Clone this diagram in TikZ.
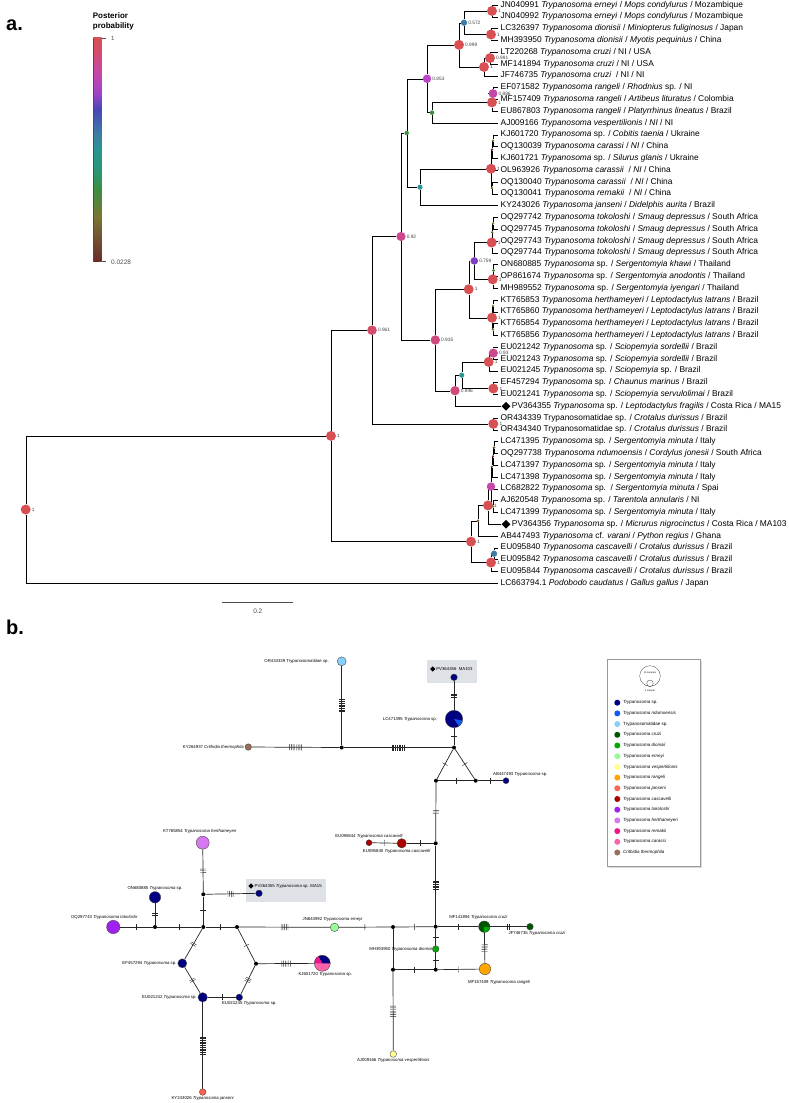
\documentclass[tikz,border=0pt]{standalone}
\usepackage{fontspec}
\setmainfont{Liberation Sans}
\usepackage{tikz}
\usetikzlibrary{calc,backgrounds,positioning,shapes.geometric}

%posterior colours (colour bar)
\definecolor{pp100}{RGB}{214,80,84}
\definecolor{pp96}{RGB}{211,76,106}
\definecolor{pp94}{RGB}{208,74,124}
\definecolor{pp92}{RGB}{204,72,142}
\definecolor{pp89}{RGB}{196,72,170}
\definecolor{pp85}{RGB}{186,70,196}
\definecolor{pp80}{RGB}{158,68,198}
\definecolor{pp76}{RGB}{128,64,196}
\definecolor{pp62}{RGB}{70,72,180}
\definecolor{pp57}{RGB}{62,124,166}
\definecolor{pp45}{RGB}{42,150,146}
\definecolor{pp40}{RGB}{42,150,112}
\definecolor{pp30}{RGB}{62,142,64}
\definecolor{pp15}{RGB}{122,118,52}
\definecolor{pp10}{RGB}{112,80,50}
\definecolor{pp02}{RGB}{110,42,42}
%haplotype colours
\definecolor{cTsp}{RGB}{0,0,128}
\definecolor{cNdu}{RGB}{20,90,240}
\definecolor{cTdae}{RGB}{135,206,250}
\definecolor{cCru}{RGB}{0,85,0}
\definecolor{cDio}{RGB}{0,170,0}
\definecolor{cErn}{RGB}{152,251,152}
\definecolor{cVes}{RGB}{255,255,140}
\definecolor{cRan}{RGB}{255,165,0}
\definecolor{cJan}{RGB}{250,100,80}
\definecolor{cCas}{RGB}{170,0,0}
\definecolor{cTok}{RGB}{160,32,240}
\definecolor{cHer}{RGB}{215,120,240}
\definecolor{cRem}{RGB}{240,20,140}
\definecolor{cCar}{RGB}{250,100,170}
\definecolor{cCri}{RGB}{150,110,90}
\definecolor{boxgray}{RGB}{222,226,230}

\pgfdeclareverticalshading{ppbar}{100bp}{color(0bp)=(pp02); color(25bp)=(pp02); color(30bp)=(pp10); color(35bp)=(pp15); color(41bp)=(pp30); color(45bp)=(pp40); color(50bp)=(pp45); color(53.5bp)=(pp57); color(59bp)=(pp62); color(62.5bp)=(pp80); color(67bp)=(pp89); color(72bp)=(pp96); color(75bp)=(pp100); color(100bp)=(pp100)}

\newcommand{\tryp}{\textit{Trypanosoma}}

\tikzset{
  pp/.style={circle, inner sep=0pt, minimum size=#1},
  vlab/.style={font=\fontsize{4.8}{5}\selectfont, text=black!75, inner sep=0.8pt},
  leaf/.style={anchor=west, inner xsep=2.5pt, inner ysep=0pt, font=\fontsize{8.4}{9}\selectfont},
  branch/.style={black!55, line width=0.8pt},
  dia/.style={diamond, fill=black, inner sep=0pt, minimum size=#1},
  hap/.style={circle, draw=black!75, line width=0.35pt, inner sep=0pt, minimum size=#1},
  mv/.style={circle, fill=black, inner sep=0pt, minimum size=4},
  nlab/.style={font=\fontsize{4.3}{5}\selectfont, inner sep=1pt},
  net/.style={black!85, line width=0.7pt},
  mt/.style={pos=.5, sloped},
  muts/.pic={
    \foreach \k in {1,...,#1}
      \draw[black!85, line width=0.4pt] ({(\k-(#1+1)/2)*1.7},-3) -- ({(\k-(#1+1)/2)*1.7},3);
  }
}

\begin{document}
\begin{tikzpicture}[x=1pt,y=-1pt]
\useasboundingbox (0,0) rectangle (789,1103);

%panel letters
\node[font=\bfseries\fontsize{20}{20}\selectfont, anchor=base west, inner sep=0] (pa) at (6,30) {a.};
\node[font=\bfseries\fontsize{20}{20}\selectfont, anchor=base west, inner sep=0] (pb) at (6,634) {b.};

%colour bar
\node[anchor=north west, align=left, font=\bfseries\fontsize{8}{9.6}\selectfont, inner sep=0] (cbt) at (92.7,13) {Posterior\\probability};
\shade[shading=ppbar] (93.3,37.7) rectangle (101.7,261.7);
\draw[black!70, line width=0.5pt] (93.3,37.7) -- (93.3,261.7);
\draw[black!70, line width=0.4pt] (101.7,37.9) -- (105.8,37.9) (101.7,261.5) -- (105.8,261.5);
\node[font=\fontsize{6}{6}\selectfont, anchor=west, inner sep=0, text=black!70] (cbhi) at (111,38.3) {1};
\node[font=\fontsize{6.5}{6}\selectfont, anchor=west, inner sep=0, text=black!70] (cblo) at (111,262.5) {0.0228};

%tips
\def\lx{498}
\foreach \i/\txt in {
 1/{JN040991 \textit{Trypanosoma erneyi} / \textit{Mops condylurus} / Mozambique},
 2/{JN040992 \textit{Trypanosoma erneyi} / \textit{Mops condylurus} / Mozambique},
 3/{LC326397 \textit{Trypanosoma dionisii} / \textit{Miniopterus fuliginosus} / Japan},
 4/{MH393950 \textit{Trypanosoma dionisii} / \textit{Myotis pequinius} / China},
 5/{LT220268 \textit{Trypanosoma cruzi} / NI / USA},
 6/{MF141894 \textit{Trypanosoma cruzi} / NI / USA},
 7/{JF746735 \textit{Trypanosoma cruzi}\ \ / NI / NI},
 8/{EF071582 \textit{Trypanosoma rangeli} / \textit{Rhodnius} sp. / NI},
 9/{MF157409 \textit{Trypanosoma rangeli} / \textit{Artibeus lituratus} / Colombia},
 10/{EU867803 \textit{Trypanosoma rangeli} / \textit{Platyrrhinus lineatus} / Brazil},
 11/{AJ009166 \textit{Trypanosoma vespertilionis} / \textit{NI} / NI},
 12/{KJ601720 \tryp\ sp. / \textit{Cobitis taenia} / Ukraine},
 13/{OQ130039 \textit{Trypanosoma carassi} / \textit{NI} / China},
 14/{KJ601721 \tryp\ sp. / \textit{Silurus glanis} / Ukraine},
 15/{OL963926 \textit{Trypanosoma carassii}\ \ / \textit{NI} / China},
 16/{OQ130040 \textit{Trypanosoma carassii}\ \ / \textit{NI} / China},
 17/{OQ130041 \textit{Trypanosoma remakii}\ \ / \textit{NI} / China},
 18/{KY243026 \textit{Trypanosoma janseni} / \textit{Didelphis aurita} / Brazil},
 19/{OQ297742 \textit{Trypanosoma tokoloshi} / \textit{Smaug depressus} / South Africa},
 20/{OQ297745 \textit{Trypanosoma tokoloshi} / \textit{Smaug depressus} / South Africa},
 21/{OQ297743 \textit{Trypanosoma tokoloshi} / \textit{Smaug depressus} / South Africa},
 22/{OQ297744 \textit{Trypanosoma tokoloshi} / \textit{Smaug depressus} / South Africa},
 23/{ON680885 \tryp\ sp. / \textit{Sergentomyia khawi} / Thailand},
 24/{OP861674 \tryp\ sp. / \textit{Sergentomyia anodontis} / Thailand},
 25/{MH989552 \tryp\ sp. / \textit{Sergentomyia iyengari} / Thailand},
 26/{KT765853 \textit{Trypanosoma herthameyeri} / \textit{Leptodactylus latrans} / Brazil},
 27/{KT765860 \textit{Trypanosoma herthameyeri} / \textit{Leptodactylus latrans} / Brazil},
 28/{KT765854 \textit{Trypanosoma herthameyeri} / \textit{Leptodactylus latrans} / Brazil},
 29/{KT765856 \textit{Trypanosoma herthameyeri} / \textit{Leptodactylus latrans} / Brazil},
 30/{EU021242 \tryp\ sp. / \textit{Sciopemyia sordellii} / Brazil},
 31/{EU021243 \tryp\ sp. / \textit{Sciopemyia sordellii} / Brazil},
 32/{EU021245 \tryp\ sp. / \textit{Sciopemyia} sp. / Brazil},
 33/{EF457294 \tryp\ sp. / \textit{Chaunus marinus} / Brazil},
 34/{EU021241 \tryp\ sp. / \textit{Sciopemyia servulolimai} / Brazil},
 36/{OR434339 Trypanosomatidae sp. / \textit{Crotalus durissus} / Brazil},
 37/{OR434340 Trypanosomatidae sp. / \textit{Crotalus durissus} / Brazil},
 38/{LC471395 \tryp\ sp. / \textit{Sergentomyia minuta} / Italy},
 39/{OQ297738 \textit{Trypanosoma ndumoensis} / \textit{Cordylus jonesii} / South Africa},
 40/{LC471397 \tryp\ sp. / \textit{Sergentomyia minuta} / Italy},
 41/{LC471398 \tryp\ sp. / \textit{Sergentomyia minuta} / Italy},
 42/{LC682822 \tryp\ sp.\ \ / \textit{Sergentomyia minuta} / Spai},
 43/{AJ620548 \tryp\ sp. / \textit{Tarentola annularis} / NI},
 44/{LC471399 \tryp\ sp. / \textit{Sergentomyia minuta} / Italy},
 46/{AB447493 \tryp\ cf. \textit{varani} / \textit{Python regius} / Ghana},
 47/{EU095840 \textit{Trypanosoma cascavelli} / \textit{Crotalus durissus} / Brazil},
 48/{EU095842 \textit{Trypanosoma cascavelli} / \textit{Crotalus durissus} / Brazil},
 49/{EU095844 \textit{Trypanosoma cascavelli} / \textit{Crotalus durissus} / Brazil},
 50/{LC663794.1 \textit{Podobodo caudatus} / \textit{Gallus gallus} / Japan}}{
  \pgfmathsetmacro{\ly}{5+(\i-1)*11.8}
  \node[leaf] (l\i) at (\lx,\ly) {\txt};
}
%the two new sequences
\node[dia=9] (d35) at (506,406.2) {};
\node[leaf, inner xsep=1pt] (l35) at (d35.east) {PV364355 \tryp\ sp. / \textit{Leptodactylus fragilis} / Costa Rica / MA15};
\node[dia=9] (d45) at (506,524.2) {};
\node[leaf, inner xsep=1pt] (l45) at (d45.east) {PV364356 \tryp\ sp. / \textit{Micrurus nigrocinctus} / Costa Rica / MA103};

%internal nodes, size and colour from posterior
\node[pp=10, fill=pp100, label={[vlab]right:1}] (root) at (25.7,509.55) {};
\node[pp=10, fill=pp100, label={[vlab]right:1}] (n1) at (331,435.9) {};
\node[pp=9.6, fill=pp96, label={[vlab]right:0.961}] (n037) at (372,330.2) {};
\node[pp=9.2, fill=pp92, label={[vlab]right:0.92}] (n0) at (401,236.5) {};
\node[pp=4.5, fill=pp30] (n118) at (406.7,133) {};
\node[pp=8.5, fill=pp85, label={[vlab]right:0.853}] (n111) at (427,78.75) {};
\node[pp=10, fill=pp100, label={[vlab]right:0.999}] (n17) at (459,44.83) {};
\node[pp=6.3, fill=pp57, label={[vlab]right:0.572}] (n14) at (464,22.7) {};
\node[pp=10, fill=pp100, label={[vlab]right:1}] (n12) at (492,10.9) {};
\node[pp=10, fill=pp100, label={[vlab]right:1}] (n34) at (491,34.5) {};
\node[pp=10, fill=pp100, label={[vlab]right:1}] (n57) at (484,66.95) {};
\node[pp=10, fill=pp100, label={[vlab]right:0.991}] (n56) at (490,58.1) {};
\node[pp=4.5, fill=pp30] (n811) at (432,112.68) {};
\node[pp=10, fill=pp100, label={[vlab]right:1}] (n810) at (492,102.35) {};
\node[pp=8.9, fill=pp89, label={[vlab]right:0.886}] (n89) at (493,93.5) {};
\node[pp=5.2, fill=pp45] (n1218) at (420,187.16) {};
\node[pp=10, fill=pp100, label={[vlab]right:1}] (n1217) at (491,168.73) {};
\node[pp=2.6, fill=pp15] (t1) at (493,140.7) {};
\node[pp=2.6, fill=pp02] (t2) at (492,149.55) {};
\node[pp=2.6, fill=pp15] (t3) at (492,187.9) {};
\node[pp=9.4, fill=pp94, label={[vlab]right:0.935}] (n1935) at (435.3,340) {};
\node[pp=10, fill=pp100, label={[vlab]right:1}] (n1929) at (468.7,289.31) {};
\node[pp=7.6, fill=pp76, label={[vlab]right:0.759}] (n1925) at (474.3,260.91) {};
\node[pp=10, fill=pp100, label={[vlab]right:1}] (n1922) at (491.7,242.48) {};
\node[pp=2.6, fill=pp15] (t5) at (492.3,232.15) {};
\node[pp=2.6, fill=pp15] (t4) at (493,223.3) {};
\node[pp=10, fill=pp100, label={[vlab]right:1}] (n2325) at (492.7,279.35) {};
\node[pp=3, fill=pp30] (t6) at (493.5,270.5) {};
\node[pp=10, fill=pp100, label={[vlab]right:1}] (n2629) at (492,317.7) {};
\node[pp=2.6, fill=pp15] (t7) at (493,305.9) {};
\node[pp=2.6, fill=pp15] (t8) at (493,329.5) {};
\node[pp=9.4, fill=pp94, label={[vlab]right:0.946}] (n3035) at (455,390.71) {};
\node[pp=5.2, fill=pp45] (n3034) at (461.7,375.23) {};
\node[pp=10, fill=pp100, label={[vlab]right:1}] (n3032) at (488.7,361.95) {};
\node[pp=9.2, fill=pp92, label={[vlab]right:0.93}] (n3031) at (493.3,353.1) {};
\node[pp=10, fill=pp100, label={[vlab]right:1}] (n3334) at (493.3,388.5) {};
\node[pp=10, fill=pp100, label={[vlab]right:1}] (n3637) at (493.3,423.9) {};
\node[pp=10, fill=pp100, label={[vlab]right:1}] (nA) at (471,541.63) {};
\node[pp=2.6, fill=pp10] (nB) at (478,520.7) {};
\node[pp=10, fill=pp100, label={[vlab]right:1}] (nC) at (488,505.4) {};
\node[pp=8.5, fill=pp89] (nm) at (491,486.59) {};
\node[pp=2.6, fill=pp10] (t11) at (492,466.68) {};
\node[pp=2.6, fill=pp02] (t10) at (493,456.35) {};
\node[pp=2.6, fill=pp10] (t9) at (494,447.5) {};
\node[pp=2.6, fill=pp15] (t12) at (493,506.5) {};
\node[pp=10, fill=pp100, label={[vlab]right:1}] (nK) at (491,562.55) {};
\node[pp=6.3, fill=pp57] (nT) at (494,553.7) {};

%branches
\begin{scope}[on background layer, branch]
\draw (root) |- (n1) (root) |- (l50.west);
\draw (n1) |- (n037) (n1) |- (nA);
\draw (n037) |- (n0) (n037) |- (n3637);
\draw (n0) |- (n118) (n0) |- (n1935);
\draw (n118) |- (n111) (n118) |- (n1218);
\draw (n111) |- (n17) (n111) |- (n811);
\draw (n17) |- (n14) (n17) |- (n57);
\draw (n14) |- (n12) (n14) |- (n34);
\draw (n12) |- (l1.west) (n12) |- (l2.west);
\draw (n34) |- (l3.west) (n34) |- (l4.west);
\draw (n57) |- (n56) (n57) |- (l7.west);
\draw (n56) |- (l5.west) (n56) |- (l6.west);
\draw (n811) |- (n810) (n811) |- (l11.west);
\draw (n810) |- (n89) (n810) |- (l10.west);
\draw (n89) |- (l8.west) (n89) |- (l9.west);
\draw (n1218) |- (n1217) (n1218) |- (l18.west);
\draw (n1217) |- (t2) (n1217) |- (l15.west) (n1217) |- (t3);
\draw (t2) |- (t1) (t2) |- (l14.west);
\draw (t1) |- (l12.west) (t1) |- (l13.west);
\draw (t3) |- (l16.west) (t3) |- (l17.west);
\draw (n1935) |- (n1929) (n1935) |- (n3035);
\draw (n1929) |- (n1925) (n1929) |- (n2629);
\draw (n1925) |- (n1922) (n1925) |- (n2325);
\draw (n1922) |- (t5) (n1922) |- (l22.west);
\draw (t5) |- (t4) (t5) |- (l21.west);
\draw (t4) |- (l19.west) (t4) |- (l20.west);
\draw (n2325) |- (t6) (n2325) |- (l25.west);
\draw (t6) |- (l23.west) (t6) |- (l24.west);
\draw (n2629) |- (t7) (n2629) |- (t8);
\draw (t7) |- (l26.west) (t7) |- (l27.west);
\draw (t8) |- (l28.west) (t8) |- (l29.west);
\draw (n3035) |- (n3034) (n3035) |- (d35);
\draw (n3034) |- (n3032) (n3034) |- (n3334);
\draw (n3032) |- (n3031) (n3032) |- (l32.west);
\draw (n3031) |- (l30.west) (n3031) |- (l31.west);
\draw (n3334) |- (l33.west) (n3334) |- (l34.west);
\draw (n3637) |- (l36.west) (n3637) |- (l37.west);
\draw (nA) |- (nB) (nA) |- (nK);
\draw (nB) |- (nC) (nB) |- (l46.west);
\draw (nC) |- (nm) (nC) |- (d45);
\draw (nm) |- (t11) (nm) |- (l42.west) (nm) |- (t12);
\draw (t11) |- (t10) (t11) |- (l41.west);
\draw (t10) |- (t9) (t10) |- (l40.west);
\draw (t9) |- (l38.west) (t9) |- (l39.west);
\draw (t12) |- (l43.west) (t12) |- (l44.west);
\draw (nK) |- (nT) (nK) |- (l49.west);
\draw (nT) |- (l47.west) (nT) |- (l48.west);
\end{scope}

%scale bar
\coordinate (sb0) at (222.3,602.3);
\coordinate (sb1) at (293.3,602.3);
\draw[black!70, line width=0.7pt] (sb0) -- node[below=6pt, font=\fontsize{6.5}{7}\selectfont, inner sep=0] (sbl) {0.2} (sb1);

%haplotype network
\node[hap=9, fill=cTdae, label={[nlab, label distance=7pt]left:OR434339 Trypanosomatidae sp.}] (or339) at (341.7,661.3) {};
\node[mv] (j1) at (341.7,747.5) {};
\node[hap=6.5, fill=cCri, label={[nlab, label distance=0pt]left:KY264937 \textit{Crithidia thermophila}}] (ky937) at (248.3,747) {};
\node[mv] (j2) at (454,747.5) {};
\node[hap=17.4, fill=cTsp, path picture={\fill[cNdu] (path picture bounding box.center) -- ++(-10:10pt) arc[start angle=-10, end angle=-55, radius=10pt] -- cycle;}, label={[nlab, label distance=7pt]left:LC471395 \tryp\ sp.}] (lc395) at (454,719) {};
\node[hap=6.6, fill=cTsp] (pv356) at (454,677.3) {};
\node[dia=5.5] (dm356) at (432.7,669) {};
\node[nlab, anchor=west, inner sep=0.5pt] (tpv356) at (dm356.east) {PV364356\ \ MA103};
\node[mv] (j3) at (436,780.7) {};
\node[mv] (j4) at (475.7,780.7) {};
\node[hap=6, fill=cTsp] (ab493) at (506,780.7) {};
\node[nlab, anchor=south west, inner sep=0] (tab493) at (493,777) {AB447493 \tryp\ sp.};
\node[mv] (j5) at (435.7,843.3) {};
\node[hap=9.4, fill=cCas, label={[nlab, xshift=-5pt]below:EU095840 \textit{Trypanosoma cascavelli}}] (cas840) at (401.7,843.3) {};
\node[hap=6, fill=cCas, label={[nlab]above:EU095844 \textit{Trypanosoma cascavelli}}] (cas844) at (369,842.7) {};
\node[mv] (j6) at (435.7,926.7) {};
\node[mv] (j7) at (393,927) {};
\node[hap=11.4, fill=cCru, path picture={\fill[cDio] (path picture bounding box.center) -- ++(-5:8pt) arc[start angle=-5, end angle=-95, radius=8pt] -- cycle;}, label={[nlab, xshift=-6pt]above:MF141894 \textit{Trypanosoma cruzi}}] (mf894) at (484.3,926.7) {};
\node[hap=6.6, fill=cCru, label={[nlab, xshift=7pt]below:JF746735 \textit{Trypanosoma cruzi}}] (jf735) at (530,926.7) {};
\node[hap=6.6, fill=cDio, label={[nlab, label distance=-1pt]left:MH393950 \textit{Trypanosoma dionisii}}] (mh950) at (435.7,949) {};
\node[mv] (j8) at (435.7,969.7) {};
\node[mv] (j9) at (393,969.7) {};
\node[hap=11.4, fill=cRan, label={[nlab, xshift=14pt, label distance=4pt]below:MF157409 \textit{Trypanosoma rangeli}}] (mf409) at (485,969) {};
\node[hap=6.6, fill=cVes, label={[nlab]below:AJ009166 \textit{Trypanosoma vespertilionis}}] (aj166) at (393.3,1054) {};
\node[hap=8.6, fill=cErn, label={[nlab, xshift=-2pt]above:JN643992 \textit{Trypanosoma erneyi}}] (jn992) at (334.5,927.3) {};
\node[mv] (j10) at (237,927) {};
\node[mv] (j11) at (203.3,927) {};
\node[mv] (j12) at (155,927) {};
\node[hap=13.4, fill=cTok, label={[nlab, xshift=-9pt]above:OQ297743 \textit{Trypanosoma tokoloshi}}] (oq743) at (113.3,927) {};
\node[hap=11.4, fill=cTsp, label={[nlab]above:ON680885 \tryp\ sp.}] (on885) at (155,897.3) {};
\node[mv] (j13) at (203.3,894.3) {};
\node[hap=6.6, fill=cTsp] (pv355) at (259,893.3) {};
\node[dia=5.5] (dm355) at (251,886) {};
\node[nlab, anchor=west, inner sep=0.5pt] (tpv355) at (dm355.east) {PV364355 \tryp\ sp. MA15};
\node[hap=13, fill=cHer, label={[nlab, xshift=-3pt, label distance=1pt]above:KT765854 \textit{Trypanosoma herthameyeri}}] (kt854) at (202.7,842.7) {};
\node[hap=9, fill=cTsp, label={[nlab, label distance=0pt]left:EF457294 \tryp\ sp.}] (ef294) at (182.3,963.3) {};
\node[hap=9.4, fill=cTsp, label={[nlab, label distance=0pt]left:EU021242 \tryp\ sp.}] (eu242) at (202.7,997.3) {};
\node[hap=6.6, fill=cTsp, label={[nlab, xshift=10pt]below:EU021245 \tryp\ sp.}] (eu245) at (239.3,997.3) {};
\node[mv] (j14) at (256,963.7) {};
\node[hap=16, fill=cCar, path picture={\fill[cTsp] (path picture bounding box.center) -- ++(0:9pt) arc[start angle=0, end angle=120, radius=9pt] -- cycle; \fill[cRem] (path picture bounding box.center) -- ++(120:9pt) arc[start angle=120, end angle=180, radius=9pt] -- cycle;}, label={[nlab, xshift=3pt]below:KJ601720 \tryp\ sp.}] (kj720) at (322.3,963.3) {};
\node[hap=6.6, fill=cJan, label={[nlab]below:KY243026 \textit{Trypanosoma janseni}}] (ky026) at (202.7,1092) {};

%links with mutation steps
\begin{scope}[on background layer]
\fill[boxgray] (427.3,660) rectangle (476.7,682.7);
\fill[boxgray] (246,879) rectangle (325.7,901.7);
\draw[net] (or339) -- pic[mt]{muts=8} (j1);
\draw[net] (ky937) -- pic[mt]{muts=8} (j1);
\draw[net] (j1) -- pic[mt]{muts=8} (j2);
\draw[net] (j2) -- pic[mt]{muts=1} (lc395);
\draw[net] (lc395) -- pic[mt]{muts=3} (pv356);
\draw[net] (j2) -- pic[mt]{muts=1} (j3);
\draw[net] (j2) -- pic[mt]{muts=1} (j4);
\draw[net] (j3) -- pic[mt]{muts=1} (j4);
\draw[net] (j4) -- pic[mt]{muts=1} (ab493);
\draw[net] (j3) -- pic[mt]{muts=3} (j5);
\draw[net] (j5) -- pic[mt]{muts=1} (cas840);
\draw[net] (cas840) -- pic[mt]{muts=1} (cas844);
\draw[net] (j5) -- pic[mt]{muts=6} (j6);
\draw[net] (j6) -- pic[mt]{muts=1} (j7);
\draw[net] (j6) -- pic[mt]{muts=1} (mf894);
\draw[net] (mf894) -- pic[mt]{muts=2} (jf735);
\draw[net] (j6) -- pic[mt]{muts=1} (mh950);
\draw[net] (mh950) -- pic[mt]{muts=1} (j8);
\draw[net] (j8) -- pic[mt]{muts=1} (j9);
\draw[net] (j8) -- pic[mt]{muts=1} (mf409);
\draw[net] (mf894) -- pic[mt]{muts=5} (mf409);
\draw[net] (j7) -- (j9);
\draw[net] (j9) -- pic[mt]{muts=7} (aj166);
\draw[net] (j7) -- pic[mt]{muts=1} (jn992);
\draw[net] (jn992) -- pic[mt]{muts=5} (j10);
\draw[net] (j10) -- pic[mt]{muts=1} (j11);
\draw[net] (j11) -- pic[mt]{muts=1} (j12);
\draw[net] (j12) -- pic[mt]{muts=1} (oq743);
\draw[net] (j12) -- pic[mt]{muts=2} (on885);
\draw[net] (j11) -- pic[mt]{muts=1} (j13);
\draw[net] (j13) -- pic[mt]{muts=4} (pv355);
\draw[net] (j13) -- pic[mt]{muts=3} (kt854);
\draw[net] (j11) -- pic[mt]{muts=2} (ef294);
\draw[net] (ef294) -- pic[mt]{muts=2} (eu242);
\draw[net] (eu242) -- pic[mt]{muts=1} (eu245);
\draw[net] (eu245) -- pic[mt]{muts=3} (j14);
\draw[net] (j14) -- pic[mt]{muts=1} (j10);
\draw[net] (j14) -- pic[mt]{muts=6} (kj720);
\draw[net] (eu242) -- pic[mt]{muts=11} (ky026);
\end{scope}

%legend
\fill[black!15] (609.2,660.8) rectangle (701.5,867.5);
\draw[black!40, fill=white, line width=0.5pt] (607.7,659.3) rectangle (700,866);
\node[circle, draw=black!80, line width=0.3pt, inner sep=0, minimum size=20.6] (sz10) at (650,676) {};
\node[circle, draw=black!80, line width=0.3pt, inner sep=0, minimum size=6.6] (sz1) at (650,683.3) {};
\node[font=\fontsize{2.4}{3}\selectfont, inner sep=0] (tsz10) at (650,672.5) {10 samples};
\node[font=\fontsize{2.4}{3}\selectfont, inner sep=0] (tsz1) at (650,690.7) {1 sample};
\foreach \i/\col/\txt in {0/cTsp/{\tryp\ sp.}, 1/cNdu/{\textit{Trypanosoma ndumoensis}}, 2/cTdae/{Trypanosomatidae sp.}, 3/cCru/{\textit{Trypanosoma cruzi}}, 4/cDio/{\textit{Trypanosoma dionisii}}, 5/cErn/{\textit{Trypanosoma erneyi}}, 6/cVes/{\textit{Trypanosoma vespertilionis}}, 7/cRan/{\textit{Trypanosoma rangeli}}, 8/cJan/{\textit{Trypanosoma janseni}}, 9/cCas/{\textit{Trypanosoma cascavelli}}, 10/cTok/{\textit{Trypanosoma tokoloshi}}, 11/cHer/{\textit{Trypanosoma herthameyeri}}, 12/cRem/{\textit{Trypanosoma remakii}}, 13/cCar/{\textit{Trypanosoma carassi}}, 14/cCri/{\textit{Crithidia thermophila}}}{
  \node[pp=6, fill=\col] (k\i) at (617.3,{702.7+\i*10.7}) {};
  \node[font=\fontsize{4.5}{5}\selectfont, inner sep=0, right=2.5pt of k\i] (kt\i) {\txt};
}
\end{tikzpicture}
\end{document}
